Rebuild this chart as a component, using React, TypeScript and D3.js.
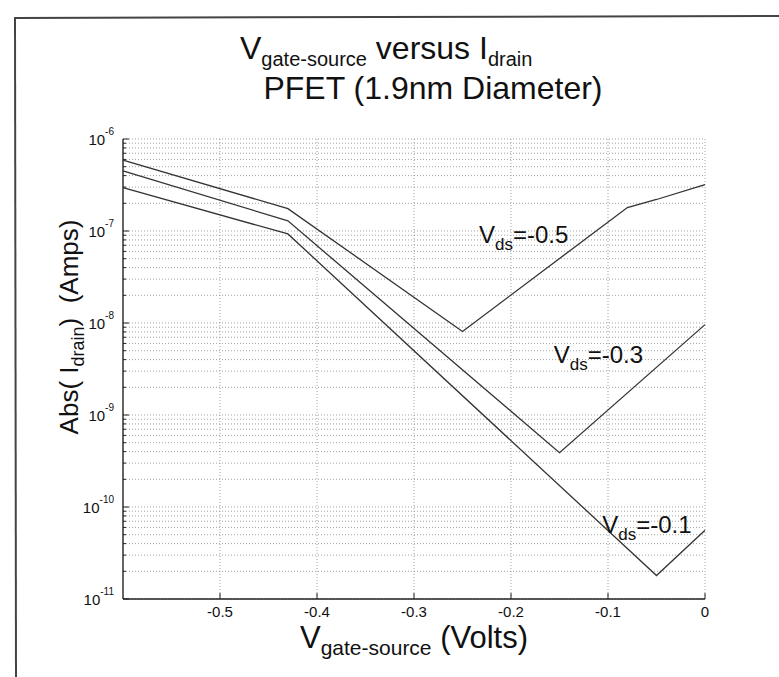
import React from "react";
import * as d3 from "d3";

// ---- data ----
const vgsVds05 = [-0.6, -0.43, -0.25, -0.08, -0.05, 0];
const idVds05 = [5.9e-7, 1.75e-7, 8.1e-9, 1.8e-7, 2.2e-7, 3.2e-7];

const vgsVds03 = [-0.6, -0.43, -0.15, 0];
const idVds03 = [4.5e-7, 1.29e-7, 3.9e-10, 9.6e-9];

const vgsVds01 = [-0.6, -0.43, -0.05, 0];
const idVds01 = [2.96e-7, 9.3e-8, 1.8e-11, 5.6e-11];

const seriesNames = ["-0.5", "-0.3", "-0.1"];
const labelVgs = [-0.233, -0.156, -0.106];
const labelId = [7.4e-8, 3.7e-9, 5.2e-11];

const xTicks = [-0.5, -0.4, -0.3, -0.2, -0.1, 0];
const xTickLabels = ["-0.5", "-0.4", "-0.3", "-0.2", "-0.1", "0"];
const yDecades = [-11, -10, -9, -8, -7, -6];

const W = 779;
const H = 677;

export default function App() {
  const x = d3.scaleLinear().domain([-0.6, 0]).range([123, 705]);
  const y = d3.scaleLog().domain([1e-11, 1e-6]).range([599, 139]);

  const series = [
    { xs: vgsVds05, ys: idVds05 },
    { xs: vgsVds03, ys: idVds03 },
    { xs: vgsVds01, ys: idVds01 },
  ];
  const line = d3
    .line<[number, number]>()
    .x((d) => x(d[0]))
    .y((d) => y(d[1]));

  const minorVals: number[] = [];
  for (let k = -11; k < -6; k++) {
    for (let m = 2; m <= 9; m++) minorVals.push(m * Math.pow(10, k));
  }
  const majorVals = yDecades.map((k) => Math.pow(10, k));

  const [x0, x1] = x.range();
  const [yb, yt] = y.range();
  const font = "'Liberation Sans', Arial, Helvetica, sans-serif";
  const gridStyle = { stroke: "#8a8a8a", strokeWidth: 0.8, strokeDasharray: "1 2" };

  return (
    <svg
      width={W}
      height={H}
      style={{ position: "absolute", left: 0, top: 0, background: "#fff" }}
      fontFamily={font}
    >
      <rect x={0} y={0} width={W} height={H} fill="#fff" />
      {/* page frame */}
      <line x1={15} y1={18} x2={W} y2={16} stroke="#444" strokeWidth={2} />
      <line x1={15} y1={17} x2={16} y2={H} stroke="#444" strokeWidth={2} />

      {/* title */}
      <text x={240} y={59} textAnchor="start" fontSize={32} fill="#111">
        <tspan>V</tspan>
        <tspan fontSize={20} dy={7}>gate-source</tspan>
        <tspan dy={-7}> versus I</tspan>
        <tspan fontSize={20} dy={7}>drain</tspan>
      </text>
      <text x={433} y={99} textAnchor="middle" fontSize={32} fill="#111">
        PFET (1.9nm Diameter)
      </text>

      {/* grid */}
      {[...minorVals, ...majorVals].map((v, i) => (
        <line key={"hg" + i} x1={x0} x2={x1} y1={y(v)} y2={y(v)} {...gridStyle} />
      ))}
      {xTicks.map((v, i) => (
        <line key={"vg" + i} x1={x(v)} x2={x(v)} y1={yb} y2={yt} {...gridStyle} />
      ))}

      {/* axes */}
      <line x1={x0} x2={x1} y1={yb} y2={yb} stroke="#222" strokeWidth={1.4} />
      <line x1={x0} x2={x0} y1={yb} y2={yt} stroke="#222" strokeWidth={1.4} />
      {xTicks.map((v, i) => (
        <line key={"xt" + i} x1={x(v)} x2={x(v)} y1={yb} y2={yb - 6} stroke="#222" strokeWidth={1} />
      ))}
      {majorVals.map((v, i) => (
        <line key={"ytM" + i} x1={x0} x2={x0 + 6} y1={y(v)} y2={y(v)} stroke="#222" strokeWidth={1} />
      ))}
      {minorVals.map((v, i) => (
        <line key={"ytm" + i} x1={x0} x2={x0 + 3} y1={y(v)} y2={y(v)} stroke="#222" strokeWidth={1} />
      ))}

      {/* tick labels */}
      {xTicks.map((v, i) => (
        <text key={"xl" + i} x={x(v)} y={617} textAnchor="middle" fontSize={15} fill="#111">
          {xTickLabels[i]}
        </text>
      ))}
      {yDecades.map((k, i) => (
        <text key={"yl" + i} x={114} y={y(Math.pow(10, k)) + 6} textAnchor="end" fontSize={15} fill="#111">
          <tspan>10</tspan>
          <tspan fontSize={10} dy={-10}>{String(k)}</tspan>
        </text>
      ))}

      {/* curves */}
      {series.map((s, i) => (
        <path
          key={"s" + i}
          d={line(s.xs.map((v, j) => [v, s.ys[j]] as [number, number])) || ""}
          fill="none"
          stroke="#333"
          strokeWidth={1.3}
        />
      ))}

      {/* curve labels */}
      {seriesNames.map((n, i) => (
        <text key={"cl" + i} x={x(labelVgs[i])} y={y(labelId[i])} fontSize={24} fill="#111">
          <tspan>V</tspan>
          <tspan fontSize={17} dy={7}>ds</tspan>
          <tspan dy={-7}>={n}</tspan>
        </text>
      ))}

      {/* axis labels */}
      <text x={414} y={648} textAnchor="middle" fontSize={31} fill="#111">
        <tspan>V</tspan>
        <tspan fontSize={21} dy={7}>gate-source</tspan>
        <tspan dy={-7}> (Volts)</tspan>
      </text>
      <text
        transform={`translate(78, 327) rotate(-90)`}
        textAnchor="middle"
        fontSize={26}
        fill="#111"
      >
        <tspan>Abs( I</tspan>
        <tspan fontSize={18} dy={6}>drain</tspan>
        <tspan dy={-6}>{")\u00a0\u00a0(Amps)"}</tspan>
      </text>
    </svg>
  );
}
